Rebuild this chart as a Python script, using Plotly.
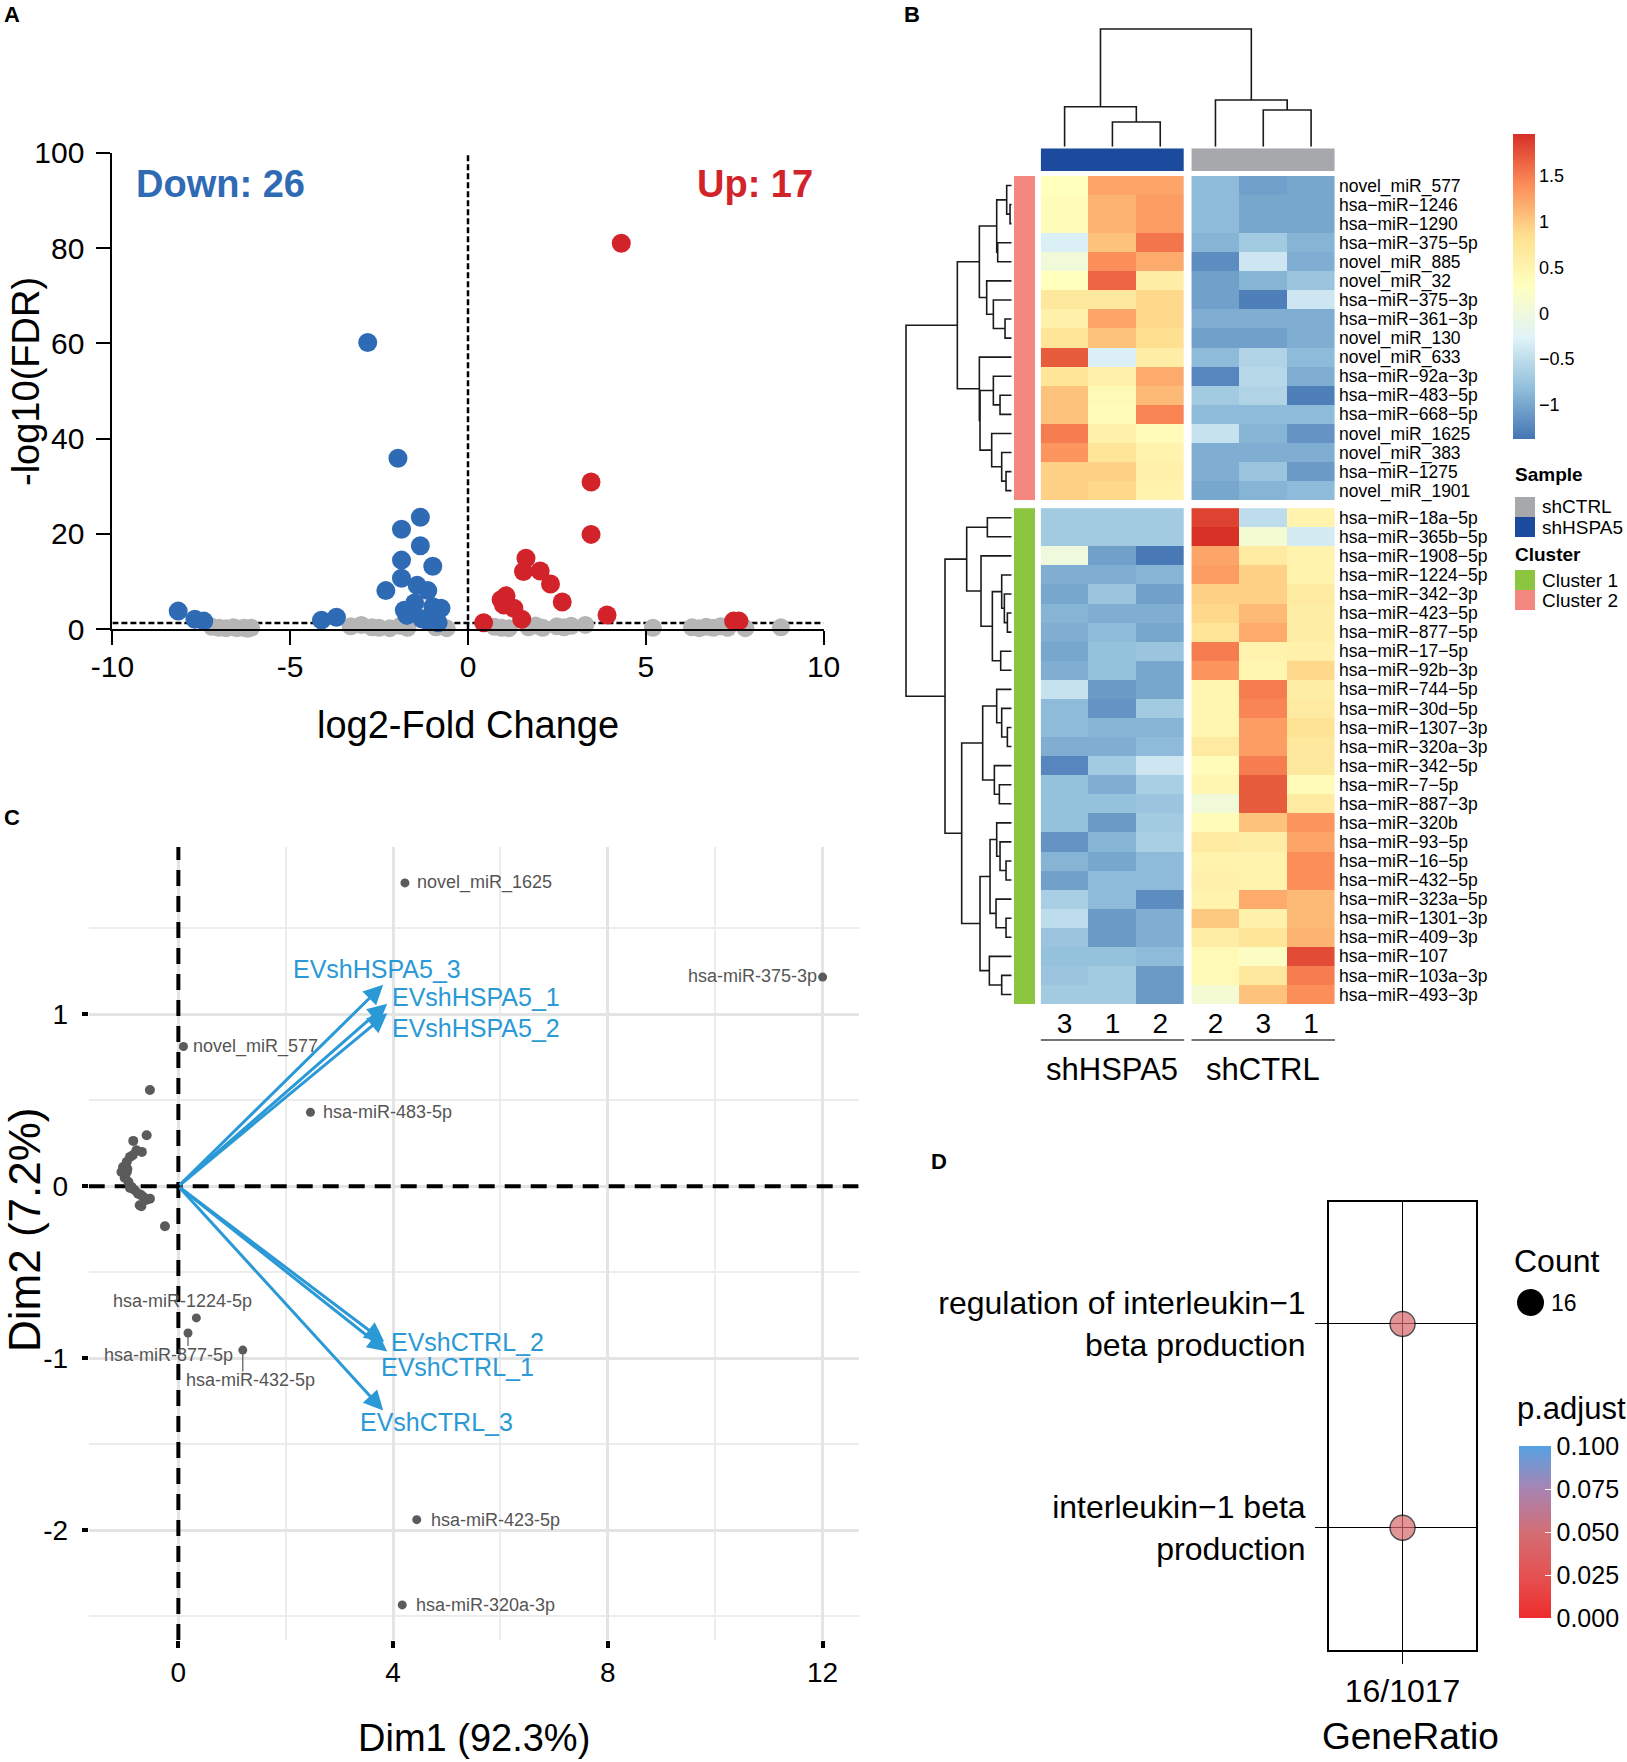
import textwrap
import plotly.graph_objects as go

W, H = 1627, 1762
FONT = "Liberation Sans, Arial, Helvetica, sans-serif"
MINUS = "\u2212"


def px_x(p):
    return p / W


def px_y(p):
    return 1 - p / H


def dom_x(a, b):
    return [a / W, b / W]


def dom_y(top, bottom):
    return [1 - bottom / H, 1 - top / H]


# ===================== Panel A : volcano data =====================
down_x = [-2.82, -1.97, -1.34, -1.87, -1.34, -1.87, -0.99, -1.87, -2.31, -1.43, -1.13,
          -1.79, -1.50, -0.99, -0.76, -1.13, -0.84, -1.72, -1.30, -1.05,
          -8.15, -7.68, -7.43, -4.12, -3.70, -0.90]
down_y = [60.2, 35.9, 23.5, 21.0, 17.5, 14.5, 13.2, 10.7, 8.1, 9.2, 8.1,
          4.0, 5.5, 4.7, 4.4, 1.7, 1.35, 2.9, 2.2, 2.0,
          3.8, 2.1, 1.7, 1.9, 2.5, 3.2]
up_x = [4.31, 3.46, 3.46, 1.63, 2.03, 1.56, 2.32, 2.65, 1.07, 1.00, 1.29, 1.51, 3.91,
        0.44, 7.47, 7.62, 0.93]
up_y = [81.0, 30.9, 19.9, 14.9, 12.2, 12.1, 9.5, 5.7, 7.0, 5.1, 4.4, 2.1, 3.0,
        1.35, 1.7, 1.7, 6.2]
ns_x = [-7.2, -7.0, -6.8, -6.6, -6.5, -6.3, -6.2, -6.1, -3.3, -3.0, -2.7, -2.5, -2.2,
        -1.9, -1.7, -0.9, -0.6, 0.75, 0.95, 1.15, 1.7, 1.9, 2.1, 2.5, 2.7, 2.9, 3.3,
        5.2, 6.3, 6.5, 6.7, 6.9, 7.1, 7.3, 7.8, 8.8]
ns_y = [0.5, 0.3, 0.2, 0.4, 0.2, 0.3, 0.1, 0.3, 0.6, 0.9, 0.4, 0.3, 0.2,
        0.7, 0.3, 0.4, 0.2, 0.5, 0.3, 0.2, 0.4, 0.8, 0.3, 0.6, 0.4, 0.7, 0.9,
        0.3, 0.4, 0.2, 0.5, 0.3, 0.6, 0.3, 0.2, 0.4]
fc_cut = 0.0
fdr_cut = 1.3
volc_xticks = [-10, -5, 0, 5, 10]
volc_yticks = [0, 20, 40, 60, 80, 100]

# ===================== Panel B : heatmap data =====================
rows_c2 = ["novel_miR_577", "hsa-miR-1246", "hsa-miR-1290", "hsa-miR-375-5p", "novel_miR_885",
           "novel_miR_32", "hsa-miR-375-3p", "hsa-miR-361-3p", "novel_miR_130", "novel_miR_633",
           "hsa-miR-92a-3p", "hsa-miR-483-5p", "hsa-miR-668-5p", "novel_miR_1625", "novel_miR_383",
           "hsa-miR-1275", "novel_miR_1901"]
rows_c1 = ["hsa-miR-18a-5p", "hsa-miR-365b-5p", "hsa-miR-1908-5p", "hsa-miR-1224-5p",
           "hsa-miR-342-3p", "hsa-miR-423-5p", "hsa-miR-877-5p", "hsa-miR-17-5p", "hsa-miR-92b-3p",
           "hsa-miR-744-5p", "hsa-miR-30d-5p", "hsa-miR-1307-3p", "hsa-miR-320a-3p", "hsa-miR-342-5p",
           "hsa-miR-7-5p", "hsa-miR-887-3p", "hsa-miR-320b", "hsa-miR-93-5p", "hsa-miR-16-5p",
           "hsa-miR-432-5p", "hsa-miR-323a-5p", "hsa-miR-1301-3p", "hsa-miR-409-3p", "hsa-miR-107",
           "hsa-miR-103a-3p", "hsa-miR-493-3p"]
col_labels = ["3", "1", "2", "2", "3", "1"]
col_groups = ["shHSPA5", "shHSPA5", "shHSPA5", "shCTRL", "shCTRL", "shCTRL"]
z_c2 = [
    [0.30, 1.25, 1.25, -0.85, -1.05, -1.00],
    [0.35, 1.15, 1.30, -0.85, -1.00, -1.00],
    [0.35, 1.15, 1.30, -0.85, -1.00, -1.00],
    [-0.30, 1.05, 1.55, -0.90, -0.70, -0.90],
    [0.05, 1.40, 1.20, -1.20, -0.40, -0.95],
    [0.30, 1.65, 0.60, -1.05, -0.90, -0.75],
    [0.70, 0.70, 0.90, -1.05, -1.30, -0.40],
    [0.55, 1.25, 0.90, -0.95, -0.95, -0.95],
    [0.75, 1.05, 0.85, -1.05, -1.05, -0.95],
    [1.70, -0.30, 0.60, -0.85, -0.60, -0.85],
    [0.75, 0.55, 1.20, -1.25, -0.55, -0.95],
    [1.05, 0.40, 1.10, -0.70, -0.60, -1.30],
    [1.05, 0.35, 1.45, -0.85, -0.85, -0.85],
    [1.50, 0.55, 0.35, -0.45, -0.90, -1.15],
    [1.35, 0.75, 0.50, -0.95, -0.95, -0.95],
    [0.95, 0.95, 0.55, -0.95, -0.75, -1.10],
    [0.95, 0.90, 0.50, -1.00, -0.90, -0.85],
]
z_c1 = [
    [-0.70, -0.70, -0.70, 1.85, -0.50, 0.50],
    [-0.70, -0.70, -0.70, 1.95, 0.10, -0.35],
    [0.00, -1.05, -1.35, 1.25, 0.65, 0.50],
    [-0.95, -0.95, -0.90, 1.30, 0.95, 0.50],
    [-1.00, -0.75, -1.05, 0.95, 0.95, 0.65],
    [-0.90, -0.95, -0.95, 0.90, 1.10, 0.60],
    [-0.95, -0.85, -1.00, 0.75, 1.20, 0.60],
    [-1.00, -0.80, -0.75, 1.50, 0.50, 0.55],
    [-0.95, -0.80, -1.00, 1.35, 0.45, 0.90],
    [-0.45, -1.10, -1.00, 0.45, 1.50, 0.60],
    [-0.85, -1.15, -0.70, 0.45, 1.45, 0.65],
    [-0.85, -0.90, -0.90, 0.45, 1.30, 0.80],
    [-0.95, -0.95, -0.85, 0.65, 1.30, 0.70],
    [-1.25, -0.70, -0.40, 0.35, 1.50, 0.70],
    [-0.80, -0.95, -0.65, 0.45, 1.70, 0.35],
    [-0.80, -0.80, -0.75, 0.05, 1.70, 0.65],
    [-0.80, -1.10, -0.70, 0.35, 1.05, 1.35],
    [-1.15, -0.90, -0.65, 0.65, 0.60, 1.25],
    [-0.90, -1.00, -0.85, 0.50, 0.50, 1.40],
    [-1.05, -0.85, -0.85, 0.55, 0.50, 1.40],
    [-0.65, -0.85, -1.20, 0.50, 1.20, 1.10],
    [-0.50, -1.10, -0.95, 1.00, 0.55, 1.10],
    [-0.75, -1.10, -0.95, 0.60, 0.75, 1.15],
    [-0.80, -0.80, -0.85, 0.40, 0.25, 1.80],
    [-0.75, -0.70, -1.10, 0.40, 0.70, 1.50],
    [-0.70, -0.70, -1.10, 0.10, 1.05, 1.40],
]
hm_min, hm_max = -1.375, 1.96
hm_ticks = [-1, -0.5, 0, 0.5, 1, 1.5]

# dendrograms: leaves = row/col index, internal = [left, right, height]
row_tree = [
    [   # cluster 2 (rows 0-16)
        [[[0, [1, 2, 5], 15], [3, 4, 42], 45], [5, [6, [7, 8, 20], 55], 75], 97],
        [9, [[10, [11, 12, 35], 55], [13, [14, [15, 16, 17], 30], 60], 95], 97],
        163],
    [   # cluster 1 (rows 17-42)
        [[17, 18, 73], [19, [[20, [21, [22, 23, 13], 22], 30], [24, 25, 33], 58], 92], 135],
        [[[26, [27, [28, 29, 13], 30], 45], [30, [31, 32, 37], 52], 87],
         [[[33, [34, [35, 36, 17], 35], 45], [37, [38, 39, 17], 47], 65],
          [40, [41, 42, 30], 67], 95], 150],
        200],
    317]
col_tree = [[0, [1, 2, 2.47], 4.0], [3, [4, 5, 3.67], 4.67], 11.77]

sample_colors = {"shCTRL": "#a6a8ab", "shHSPA5": "#1c4a9c"}
cluster_colors = {"Cluster 1": "#8cc540", "Cluster 2": "#f4877f"}

# ===================== Panel C : PCA biplot data =====================
var_names = ["novel_miR_1625", "hsa-miR-375-3p", "novel_miR_577", "hsa-miR-483-5p",
             "hsa-miR-1224-5p", "hsa-miR-877-5p", "hsa-miR-432-5p", "hsa-miR-423-5p",
             "hsa-miR-320a-3p"]
var_x = [4.22, 12.0, 0.095, 2.46, 0.335, 0.18, 1.20, 4.44, 4.17]
var_y = [1.765, 1.217, 0.813, 0.43, -0.766, -0.854, -0.953, -1.94, -2.436]
lab_x = [4.41, 11.93, 0.23, 2.665, 0.075, -0.186, 1.348, 4.67, 4.38]
lab_y = [1.765, 1.225, 0.813, 0.43, -0.67, -0.98, -1.128, -1.94, -2.436]
lab_anchor = ["left", "right", "left", "left", "center", "center", "center", "left", "left"]
lab_segment = [False, False, False, False, False, True, True, False, False]
other_x = [-0.53, -0.59, -0.84, -0.68, -0.78, -0.90, -0.96, -1.03, -1.06, -0.96, -0.99,
           -0.93, -0.87, -0.81, -0.75, -0.65, -0.53, -0.72, -0.25, -1.00, -0.90, -0.95,
           -0.85, -0.70, -0.60, -0.69]
other_y = [0.56, 0.297, 0.264, 0.20, 0.21, 0.171, 0.142, 0.112, 0.083, 0.083, 0.054,
           0.025, -0.004, -0.023, -0.043, -0.062, -0.072, -0.11, -0.233, 0.05, -0.01, 0.10,
           0.18, -0.05, -0.08, -0.116]
sample_names = ["EVshHSPA5_3", "EVshHSPA5_1", "EVshHSPA5_2", "EVshCTRL_2", "EVshCTRL_1", "EVshCTRL_3"]
samp_x = [3.815, 3.89, 3.89, 3.836, 3.89, 3.815]
samp_y = [1.173, 1.062, 1.006, -0.905, -0.962, -1.305]
samp_lab_x = [3.70, 5.54, 5.54, 5.38, 5.20, 4.81]
samp_lab_y = [1.266, 1.104, 0.923, -0.905, -1.05, -1.371]
pca_xrange = [-1.67, 12.67]
pca_yrange = [-2.64, 1.974]
pca_xticks = [0, 4, 8, 12]
pca_yticks = [-2, -1, 0, 1]
pca_xminor = [2, 6, 10]
pca_yminor = [-2.5, -1.5, -0.5, 0.5, 1.5]

# ===================== Panel D : GO dot plot data =====================
go_terms = ["regulation of interleukin\u22121 beta production", "interleukin\u22121 beta production"]
go_ratio = ["16/1017", "16/1017"]
go_count = [16, 16]
go_padj = [0.044, 0.044]
padj_ticks = [0.0, 0.025, 0.05, 0.075, 0.1]

BLUE_A = "#2f6bb4"
RED_A = "#d2232a"
GRAY_A = "#b5b5b5"
ARROW_BLUE = "#2a99d6"

fig = go.Figure()

# ---------------- Panel A traces ----------------
fig.add_trace(go.Scatter(x=[-10, 10], y=[fdr_cut, fdr_cut], mode="lines",
                         line=dict(color="black", width=2.5, dash="6px,3px"),
                         xaxis="x", yaxis="y", hoverinfo="skip"))
fig.add_trace(go.Scatter(x=ns_x, y=ns_y, mode="markers", cliponaxis=False,
                         marker=dict(size=18, color=GRAY_A), xaxis="x", yaxis="y"))
fig.add_trace(go.Scatter(x=down_x, y=down_y, mode="markers", cliponaxis=False,
                         marker=dict(size=19, color=BLUE_A), xaxis="x", yaxis="y"))
fig.add_trace(go.Scatter(x=up_x, y=up_y, mode="markers", cliponaxis=False,
                         marker=dict(size=19, color=RED_A), xaxis="x", yaxis="y"))
fig.add_trace(go.Scatter(x=[fc_cut, fc_cut], y=[0, 100], mode="lines",
                         line=dict(color="black", width=2.5, dash="6px,3px"),
                         xaxis="x", yaxis="y", hoverinfo="skip"))

# ---------------- Panel B traces ----------------
n2 = len(rows_c2)
row_gap = 0.42
col_gap = 0.155
n_rows = n2 + len(rows_c1)
row_pos = [i + (row_gap if i >= n2 else 0) for i in range(n_rows)]
col_pos = [i + (col_gap if i >= 3 else 0) for i in range(6)]

rd = ["#4575B4", "#91BFDB", "#E0F3F8", "#FFFFBF", "#FEE090", "#FC8D59", "#D73027"]
hm_scale = [[i / (len(rd) - 1), c] for i, c in enumerate(rd)]

for zblock, rows in ((z_c2, list(range(0, n2))), (z_c1, list(range(n2, n_rows)))):
    for cols in ([0, 1, 2], [3, 4, 5]):
        fig.add_trace(go.Heatmap(z=[[r[c] for c in cols] for r in zblock],
                                 x=[col_pos[c] for c in cols], y=[row_pos[r] for r in rows],
                                 coloraxis="coloraxis", xaxis="x2", yaxis="y2",
                                 hoverinfo="skip"))

# sample annotation bar
for grp in ["shHSPA5", "shCTRL"]:
    cols = [i for i, g in enumerate(col_groups) if g == grp]
    c = sample_colors[grp]
    fig.add_trace(go.Heatmap(z=[[1] * len(cols)], x=[col_pos[i] for i in cols], y=[0],
                             colorscale=[[0, c], [1, c]], showscale=False,
                             xaxis="x2", yaxis="y4", hoverinfo="skip"))
# cluster annotation bar
for name, rows in (("Cluster 2", range(0, n2)), ("Cluster 1", range(n2, n_rows))):
    c = cluster_colors[name]
    fig.add_trace(go.Heatmap(z=[[1] for _ in rows], x=[0], y=[row_pos[r] for r in rows],
                             colorscale=[[0, c], [1, c]], showscale=False,
                             xaxis="x4", yaxis="y2", hoverinfo="skip"))


def dendro(node, pos):
    if isinstance(node, int):
        return pos[node], 0.0, [], []
    l, r, h = node
    pl, hl, al, bl = dendro(l, pos)
    pr, hr, ar, br = dendro(r, pos)
    a = al + ar + [pl, pl, pr, pr, None]
    b = bl + br + [hl, h, h, hr, None]
    return (pl + pr) / 2, h, a, b


_, _, cpos, chgt = dendro(col_tree, col_pos)
fig.add_trace(go.Scatter(x=cpos, y=chgt, mode="lines", line=dict(color="#1a1a1a", width=1.6),
                         xaxis="x2", yaxis="y3", hoverinfo="skip"))
_, _, rpos, rhgt = dendro(row_tree, row_pos)
fig.add_trace(go.Scatter(x=rhgt, y=rpos, mode="lines", line=dict(color="#1a1a1a", width=1.6),
                         xaxis="x3", yaxis="y2", hoverinfo="skip"))

# ---------------- Panel C traces ----------------
fig.add_trace(go.Scatter(x=pca_xrange, y=[0, 0], mode="lines",
                         line=dict(color="black", width=4, dash="16px,10px"),
                         xaxis="x5", yaxis="y5", hoverinfo="skip"))
fig.add_trace(go.Scatter(x=[0, 0], y=pca_yrange, mode="lines",
                         line=dict(color="black", width=4, dash="16px,10px"),
                         xaxis="x5", yaxis="y5", hoverinfo="skip"))
seg_x, seg_y = [], []
for i, s in enumerate(lab_segment):
    if s:
        seg_x += [var_x[i], var_x[i], None]
        seg_y += [var_y[i], lab_y[i] + 0.05, None]
fig.add_trace(go.Scatter(x=seg_x, y=seg_y, mode="lines", line=dict(color="#555555", width=1.2),
                         xaxis="x5", yaxis="y5", hoverinfo="skip"))
fig.add_trace(go.Scatter(x=other_x, y=other_y, mode="markers",
                         marker=dict(size=10, color="#5b5b5b"), xaxis="x5", yaxis="y5"))
fig.add_trace(go.Scatter(x=var_x, y=var_y, mode="markers",
                         marker=dict(size=9, color="#5b5b5b"), xaxis="x5", yaxis="y5"))

# ---------------- Panel D traces ----------------
term_labels = ["<br>".join(textwrap.wrap(t, 28)) for t in go_terms]
term_pos = list(range(len(go_terms), 0, -1))
fig.add_trace(go.Scatter(x=[1] * len(go_terms), y=term_pos, mode="markers", cliponaxis=False,
                         marker=dict(size=[25 * (c / 16) for c in go_count], color=go_padj,
                                     coloraxis="coloraxis2", line=dict(color="black", width=1.4)),
                         xaxis="x6", yaxis="y6"))

# ---------------- annotations ----------------
ann = []


def paper_text(text, x, y, size, color="black", xanchor="center", bold=False, angle=0):
    ann.append(dict(text=("<b>%s</b>" % text) if bold else text, x=px_x(x), y=px_y(y),
                    xref="paper", yref="paper", showarrow=False, xanchor=xanchor,
                    yanchor="middle", textangle=angle, borderpad=0,
                    font=dict(family=FONT, size=size, color=color)))


# panel letters
paper_text("A", 12, 15, 22, bold=True)
paper_text("B", 912, 15, 22, bold=True)
paper_text("C", 12, 817, 22, bold=True)
paper_text("D", 939, 1161, 22, bold=True)

# panel A text
paper_text("Down: %d" % len(down_x), 135, 184, 38, color=BLUE_A, xanchor="left", bold=True)
paper_text("Up: %d" % len(up_x), 814, 184, 38, color=RED_A, xanchor="right", bold=True)
paper_text("-log10(FDR)", 26, 382, 38, angle=-90)
paper_text("log2-Fold Change", 468, 725, 38)

# panel B legends & group labels
paper_text("Sample", 1514, 475, 19, xanchor="left", bold=True)
paper_text("shCTRL", 1541, 507, 19, xanchor="left")
paper_text("shHSPA5", 1541, 527, 19, xanchor="left")
paper_text("Cluster", 1514, 554, 19, xanchor="left", bold=True)
paper_text("Cluster 1", 1541, 580, 19, xanchor="left")
paper_text("Cluster 2", 1541, 600, 19, xanchor="left")
for grp in ["shHSPA5", "shCTRL"]:
    cols = [i for i, g in enumerate(col_groups) if g == grp]
    ann.append(dict(text=grp, x=sum(col_pos[i] for i in cols) / len(cols), y=px_y(1069),
                    xref="x2", yref="paper", showarrow=False, xanchor="center", yanchor="middle",
                    font=dict(family=FONT, size=31, color="black")))

# panel C texts
paper_text("Dim2 (7.2%)", 24, 1230, 44, angle=-90)
paper_text("Dim1 (92.3%)", 474, 1738, 38)
for i, nm in enumerate(var_names):
    ann.append(dict(text=nm, x=lab_x[i], y=lab_y[i], xref="x5", yref="y5", showarrow=False,
                    xanchor=lab_anchor[i], yanchor="middle",
                    font=dict(family=FONT, size=18, color="#555555")))
for i, nm in enumerate(sample_names):
    ann.append(dict(text="", x=samp_x[i], y=samp_y[i], ax=0, ay=0, xref="x5", yref="y5",
                    axref="x5", ayref="y5", showarrow=True, arrowhead=2, arrowsize=1.3,
                    arrowwidth=3, arrowcolor=ARROW_BLUE, standoff=0))
    ann.append(dict(text=nm, x=samp_lab_x[i], y=samp_lab_y[i], xref="x5", yref="y5",
                    showarrow=False, xanchor="center", yanchor="middle",
                    font=dict(family=FONT, size=25, color=ARROW_BLUE)))

# panel D texts
paper_text("GeneRatio", 1410, 1736, 37)
paper_text("Count", 1513, 1261, 32, xanchor="left")
paper_text(str(go_count[0]), 1550, 1303, 23, xanchor="left")
paper_text("p.adjust", 1516, 1408, 31, xanchor="left")

# ---------------- shapes ----------------
shapes = []
for i, grp in enumerate(["shCTRL", "shHSPA5"]):
    shapes.append(dict(type="rect", xref="paper", yref="paper", x0=px_x(1515), x1=px_x(1535),
                       y0=px_y(497 + 20 * i), y1=px_y(517 + 20 * i), line=dict(width=0),
                       fillcolor=sample_colors[grp]))
for i, cl in enumerate(["Cluster 1", "Cluster 2"]):
    shapes.append(dict(type="rect", xref="paper", yref="paper", x0=px_x(1515), x1=px_x(1535),
                       y0=px_y(570 + 20 * i), y1=px_y(590 + 20 * i), line=dict(width=0),
                       fillcolor=cluster_colors[cl]))
for cols in ([0, 1, 2], [3, 4, 5]):
    shapes.append(dict(type="line", xref="x2", yref="paper", x0=col_pos[cols[0]] - 0.5,
                       x1=col_pos[cols[-1]] + 0.5, y0=px_y(1040), y1=px_y(1040),
                       line=dict(color="#444444", width=1.5)))
shapes.append(dict(type="circle", xref="paper", yref="paper", x0=px_x(1517), x1=px_x(1544),
                   y0=px_y(1289), y1=px_y(1316), fillcolor="black", line=dict(width=0)))

NOGRID = dict(showgrid=False, zeroline=False, automargin=False)
neg = lambda v: ("-" + str(abs(v))) if v < 0 else str(v)
row_text = [r.replace("-", MINUS) for r in rows_c2 + rows_c1]

fig.update_layout(
    template="none",
    width=W, height=H, margin=dict(l=0, r=0, t=0, b=0, pad=0), autosize=False,
    paper_bgcolor="white", plot_bgcolor="white", showlegend=False,
    font=dict(family=FONT, color="black"),
    annotations=ann, shapes=shapes,
    # Panel A
    xaxis=dict(domain=dom_x(112.4, 823.6), range=[-10, 10], anchor="y", showline=True,
               linecolor="black", linewidth=2, ticks="outside", ticklen=14, tickwidth=2,
               tickcolor="black", tickvals=volc_xticks, ticktext=[neg(v) for v in volc_xticks],
               tickfont=dict(size=30), ticklabelstandoff=-4, **NOGRID),
    yaxis=dict(domain=dom_y(152.8, 629.2), range=[0, 100], anchor="x", showline=True,
               linecolor="black", linewidth=2, ticks="outside", ticklen=14, tickwidth=2,
               tickcolor="black", tickvals=volc_yticks, ticktext=[str(v) for v in volc_yticks],
               tickfont=dict(size=30), ticklabelstandoff=6, **NOGRID),
    # Panel B
    xaxis2=dict(domain=dom_x(1040.7, 1335), range=[-0.5, 5 + col_gap + 0.5], anchor="y2",
                tickvals=col_pos, ticktext=col_labels, ticks="", tickfont=dict(size=28),
                showline=False, **NOGRID),
    yaxis2=dict(domain=dom_y(176, 1004), range=[n_rows - 1 + row_gap + 0.5, -0.5], anchor="x2",
                side="right", tickvals=row_pos, ticktext=row_text, ticks="",
                tickfont=dict(size=17.5), ticklabelstandoff=3, showline=False, **NOGRID),
    yaxis3=dict(domain=dom_y(20, 146.7), range=[0, 12.67], anchor="x2", visible=False, **NOGRID),
    yaxis4=dict(domain=dom_y(148.3, 171), range=[-0.5, 0.5], anchor="x2", visible=False, **NOGRID),
    xaxis3=dict(domain=dom_x(900, 1011.7), range=[335, 0], anchor="y2", visible=False, **NOGRID),
    xaxis4=dict(domain=dom_x(1014, 1035), range=[-0.5, 0.5], anchor="y2", visible=False, **NOGRID),
    coloraxis=dict(colorscale=hm_scale, cmin=hm_min, cmax=hm_max,
                   colorbar=dict(x=px_x(1513), xanchor="left", y=px_y(286.5), yanchor="middle",
                                 len=305 / H, lenmode="fraction", thickness=22,
                                 thicknessmode="pixels", outlinewidth=0, xpad=0, ypad=0,
                                 tickvals=hm_ticks,
                                 ticktext=[(MINUS + str(abs(v)) if v < 0 else str(v)).replace(".0", "")
                                           for v in hm_ticks],
                                 ticks="", tickfont=dict(size=18))),
    # Panel C
    xaxis5=dict(domain=dom_x(88.7, 858.6), range=pca_xrange, anchor="y5", tickvals=pca_xticks,
                ticktext=[neg(v) for v in pca_xticks],
                showgrid=True, gridcolor="#e4e4e4", gridwidth=3,
                minor=dict(tickvals=pca_xminor, showgrid=True, gridcolor="#ececec", gridwidth=1.5,
                           ticks=""),
                ticks="outside", ticklen=7, tickwidth=4, tickcolor="black", zeroline=False,
                showline=False, tickfont=dict(size=28), automargin=False),
    yaxis5=dict(domain=dom_y(847, 1640), range=pca_yrange, anchor="x5", tickvals=pca_yticks,
                ticktext=[neg(v) for v in pca_yticks],
                showgrid=True, gridcolor="#e4e4e4", gridwidth=3,
                minor=dict(tickvals=pca_yminor, showgrid=True, gridcolor="#ececec", gridwidth=1.5,
                           ticks=""),
                ticks="outside", ticklen=6, tickwidth=4, tickcolor="black", zeroline=False,
                showline=False, tickfont=dict(size=28), ticklabelstandoff=8, automargin=False),
    # Panel D
    xaxis6=dict(domain=dom_x(1328.8, 1476.3), range=[0.5, 1.5], anchor="y6", tickvals=[1],
                ticktext=[go_ratio[0]], showline=True, mirror=True, linecolor="black",
                linewidth=1.5, showgrid=True, gridcolor="black", gridwidth=1.2, ticks="outside",
                ticklen=12, tickwidth=1.2, tickcolor="black", zeroline=False,
                tickfont=dict(size=32), automargin=False),
    yaxis6=dict(domain=dom_y(1201.7, 1650), range=[0.4, len(go_terms) + 0.6], anchor="x6",
                tickvals=term_pos, ticktext=term_labels, showline=True, mirror=True,
                linecolor="black", linewidth=1.5, showgrid=True, gridcolor="black", gridwidth=1.2,
                ticks="outside", ticklen=12, tickwidth=1.2, tickcolor="black", zeroline=False,
                tickfont=dict(size=32), ticklabelstandoff=3, automargin=False),
    coloraxis2=dict(colorscale=[[0, "#ee2c2c"], [0.25, "#e55252"], [0.5, "#d36e74"],
                                [0.75, "#a884b4"], [1, "#56a2e2"]],
                    cmin=0, cmax=0.1,
                    colorbar=dict(x=px_x(1519), xanchor="left", y=px_y(1532), yanchor="middle",
                                  len=172 / H, lenmode="fraction", thickness=32,
                                  thicknessmode="pixels", outlinewidth=0, xpad=0, ypad=0,
                                  tickvals=padj_ticks, ticktext=["%.3f" % v for v in padj_ticks],
                                  ticks="inside", tickcolor="white", ticklen=6,
                                  tickfont=dict(size=25))),
)

fig.write_html("out.html", config={"displayModeBar": False},
               post_script="document.body.style.margin='0px';document.body.style.padding='0px';"
                           "document.body.style.overflow='hidden';")
